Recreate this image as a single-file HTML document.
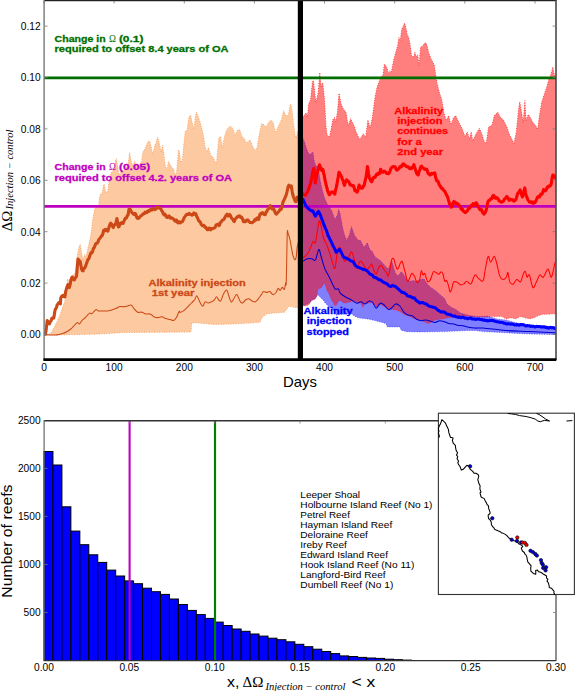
<!DOCTYPE html><html><head><meta charset="utf-8"><style>html,body{margin:0;padding:0;background:#fff;}svg{display:block;}</style></head><body>
<svg width="575" height="691" viewBox="0 0 575 691">
<rect x="0" y="0" width="575" height="691" fill="#fff"/>
<defs><clipPath id="c1"><rect x="44" y="0" width="512" height="359"/></clipPath></defs>
<g clip-path="url(#c1)">
<polygon points="44.0,334.5 46.9,335.0 51.0,333.0 54.0,327.5 57.0,321.5 59.8,315.5 61.8,309.5 63.8,303.7 65.8,298.0 66.4,295.0 67.9,287.8 67.2,279.1 68.6,280.5 70.8,277.6 72.9,274.7 75.1,273.3 76.6,260.3 78.0,251.6 79.5,245.8 80.2,244.3 81.6,253.0 83.1,260.3 84.5,254.5 86.0,256.7 89.0,243.5 91.1,233.4 92.6,220.2 94.6,209.1 97.5,205.5 98.8,204.7 99.3,198.5 100.4,194.3 102.4,192.2 103.5,184.9 104.3,184.4 105.0,189.1 106.6,193.2 108.2,189.1 108.7,183.8 109.7,178.6 110.8,173.4 112.4,171.3 113.9,169.2 115.5,159.8 116.5,158.8 117.6,166.1 118.6,173.4 120.2,173.4 121.7,171.3 123.3,170.3 125.4,169.2 127.5,166.1 128.5,160.9 129.6,152.5 130.6,158.8 131.7,163.0 133.2,166.1 134.8,160.9 135.8,165.1 137.9,166.1 140.0,164.0 141.6,160.9 142.6,153.6 143.7,150.4 145.2,148.4 146.8,144.2 148.4,141.0 150.0,141.7 152.9,154.5 154.6,146.3 156.4,141.7 157.5,137.1 159.3,142.9 161.0,152.1 162.7,145.2 163.9,154.5 165.6,168.4 167.4,167.2 168.5,161.4 170.3,164.9 172.0,167.2 173.8,169.5 174.9,175.3 176.7,171.8 178.4,149.8 179.5,152.1 180.7,162.6 182.4,160.3 184.2,140.6 185.3,131.3 187.1,130.1 188.8,117.4 190.6,115.1 192.3,123.2 194.0,129.0 195.2,117.4 196.3,112.2 198.1,116.2 199.8,120.9 201.6,127.8 203.3,134.8 205.0,146.3 206.8,152.1 208.5,147.5 210.6,154.9 213.0,157.2 216.4,164.1 218.7,138.6 220.6,136.3 222.2,147.9 224.5,136.3 226.9,129.4 230.3,125.9 232.6,128.2 235.0,135.2 237.3,130.5 239.6,129.4 241.9,136.3 244.2,138.6 246.5,143.3 250.0,139.8 252.3,145.6 254.7,150.2 257.0,147.9 259.3,134.0 261.6,123.6 263.9,124.7 266.2,127.1 268.5,122.4 270.9,120.1 273.2,122.4 275.5,132.9 279.0,124.7 281.3,120.1 283.6,110.8 285.9,115.5 288.2,115.5 290.3,104.0 291.5,106.0 292.5,114.0 293.5,123.1 295.2,134.7 296.4,138.2 297.5,131.3 299.0,132.0 299.0,307.7 296.3,307.7 291.8,306.8 289.0,305.9 287.2,308.6 284.5,312.2 273.7,313.1 266.4,314.0 261.9,317.6 260.1,322.2 250.0,323.1 232.0,324.0 214.0,324.5 196.3,322.7 191.8,323.1 190.9,332.1 124.0,332.5 100.0,334.0 60.0,335.0 44.0,334.8" fill="#fdc9a1" stroke="none"/>
<polyline points="44.0,334.5 46.9,335.0 51.0,333.0 54.0,327.5 57.0,321.5 59.8,315.5 61.8,309.5 63.8,303.7 65.8,298.0 66.4,295.0 67.9,287.8 67.2,279.1 68.6,280.5 70.8,277.6 72.9,274.7 75.1,273.3 76.6,260.3 78.0,251.6 79.5,245.8 80.2,244.3 81.6,253.0 83.1,260.3 84.5,254.5 86.0,256.7 89.0,243.5 91.1,233.4 92.6,220.2 94.6,209.1 97.5,205.5 98.8,204.7 99.3,198.5 100.4,194.3 102.4,192.2 103.5,184.9 104.3,184.4 105.0,189.1 106.6,193.2 108.2,189.1 108.7,183.8 109.7,178.6 110.8,173.4 112.4,171.3 113.9,169.2 115.5,159.8 116.5,158.8 117.6,166.1 118.6,173.4 120.2,173.4 121.7,171.3 123.3,170.3 125.4,169.2 127.5,166.1 128.5,160.9 129.6,152.5 130.6,158.8 131.7,163.0 133.2,166.1 134.8,160.9 135.8,165.1 137.9,166.1 140.0,164.0 141.6,160.9 142.6,153.6 143.7,150.4 145.2,148.4 146.8,144.2 148.4,141.0 150.0,141.7 152.9,154.5 154.6,146.3 156.4,141.7 157.5,137.1 159.3,142.9 161.0,152.1 162.7,145.2 163.9,154.5 165.6,168.4 167.4,167.2 168.5,161.4 170.3,164.9 172.0,167.2 173.8,169.5 174.9,175.3 176.7,171.8 178.4,149.8 179.5,152.1 180.7,162.6 182.4,160.3 184.2,140.6 185.3,131.3 187.1,130.1 188.8,117.4 190.6,115.1 192.3,123.2 194.0,129.0 195.2,117.4 196.3,112.2 198.1,116.2 199.8,120.9 201.6,127.8 203.3,134.8 205.0,146.3 206.8,152.1 208.5,147.5 210.6,154.9 213.0,157.2 216.4,164.1 218.7,138.6 220.6,136.3 222.2,147.9 224.5,136.3 226.9,129.4 230.3,125.9 232.6,128.2 235.0,135.2 237.3,130.5 239.6,129.4 241.9,136.3 244.2,138.6 246.5,143.3 250.0,139.8 252.3,145.6 254.7,150.2 257.0,147.9 259.3,134.0 261.6,123.6 263.9,124.7 266.2,127.1 268.5,122.4 270.9,120.1 273.2,122.4 275.5,132.9 279.0,124.7 281.3,120.1 283.6,110.8 285.9,115.5 288.2,115.5 290.3,104.0 291.5,106.0 292.5,114.0 293.5,123.1 295.2,134.7 296.4,138.2 297.5,131.3 299.0,132.0" fill="none" stroke="#f98a3a" stroke-opacity="0.7" stroke-width="1" stroke-dasharray="1,1.5"/>
<polyline points="44.0,334.8 60.0,335.0 100.0,334.0 124.0,332.5 190.9,332.1 191.8,323.1 196.3,322.7 214.0,324.5 232.0,324.0 250.0,323.1 260.1,322.2 261.9,317.6 266.4,314.0 273.7,313.1 284.5,312.2 287.2,308.6 289.0,305.9 291.8,306.8 296.3,307.7 299.0,307.7" fill="none" stroke="#f98a3a" stroke-opacity="0.7" stroke-width="1" stroke-dasharray="1,1.5"/>
<polygon points="302.0,135.9 304.5,141.7 306.2,147.5 307.9,152.1 309.7,154.4 311.4,153.2 313.1,152.1 314.3,161.3 316.0,166.0 317.8,166.0 318.9,172.0 320.5,182.0 322.3,190.0 324.6,198.0 328.1,205.6 331.6,210.2 335.0,219.4 337.4,214.8 338.5,209.0 340.3,213.9 342.4,226.4 344.5,234.8 346.6,240.3 349.4,234.8 351.4,226.4 354.7,235.6 358.2,240.3 360.5,240.3 364.0,247.2 367.4,242.6 370.0,250.0 372.0,251.0 375.2,257.0 380.4,260.4 385.7,266.5 388.3,269.1 390.9,262.2 392.0,261.5 395.2,272.6 397.8,276.1 401.3,271.7 403.0,273.5 406.5,278.7 410.0,281.3 413.5,280.4 417.0,281.3 420.4,279.6 423.9,278.7 427.4,283.9 430.9,287.4 436.1,290.9 439.6,294.3 444.8,298.7 446.8,303.8 451.4,307.3 456.0,309.6 460.6,313.0 469.3,315.4 478.5,316.6 487.8,316.1 497.0,318.9 506.3,320.0 515.6,322.4 524.8,324.7 534.1,325.8 543.3,326.3 554.9,327.0 556.0,327.0 556.0,334.6 554.9,334.6 529.4,333.9 506.3,332.8 483.1,331.6 475.0,330.5 467.6,330.5 444.4,331.6 420.0,331.9 406.8,331.7 401.2,330.3 399.8,326.9 392.9,326.9 387.3,326.9 385.9,323.4 380.3,322.0 374.8,320.6 369.2,319.2 363.6,318.5 358.1,317.8 353.9,315.7 351.1,313.6 346.5,314.2 340.9,314.2 336.5,315.2 334.8,311.7 331.3,308.3 328.7,306.5 327.0,304.8 325.2,303.0 323.5,300.4 321.7,298.7 320.0,297.0 318.7,295.2 317.4,295.2 316.1,297.0 314.8,298.7 313.0,300.0 311.3,300.4 309.6,303.0 303.5,305.7 302.0,305.7" fill="#0000ff" fill-opacity="0.5" stroke="none"/>
<polygon points="302.0,117.4 304.5,115.0 306.2,112.7 307.4,117.4 308.5,104.6 309.7,101.2 310.5,100.0 312.4,81.7 313.5,80.5 315.8,102.5 318.1,93.2 319.8,72.4 321.2,86.3 322.8,82.8 324.6,100.2 325.9,125.0 327.0,134.7 329.4,137.0 331.1,128.9 332.8,119.7 334.6,117.4 335.7,122.0 337.5,111.6 339.0,93.2 341.3,104.8 343.6,109.4 345.9,111.8 348.2,125.6 350.6,118.7 354.0,125.6 356.3,132.6 359.8,139.5 363.3,133.8 365.6,137.2 367.9,119.9 370.2,128.0 372.5,116.4 374.9,97.9 377.2,86.3 380.9,77.2 383.0,75.1 384.3,64.0 385.7,65.4 387.1,68.2 388.5,73.7 389.9,70.9 391.3,72.3 393.4,61.2 395.5,52.9 397.6,45.9 398.9,37.6 400.3,40.3 401.7,29.2 403.1,26.4 404.5,22.9 405.9,27.8 407.3,34.8 408.7,37.6 410.1,44.5 411.5,55.6 413.5,57.0 414.9,52.2 416.3,57.0 417.7,54.9 419.1,65.4 420.5,47.3 422.6,45.9 424.7,43.1 426.1,43.1 427.5,47.3 428.8,52.9 430.9,58.4 433.0,62.6 434.4,65.4 435.8,75.8 437.1,83.2 439.4,92.5 441.7,99.4 444.0,113.3 446.3,120.3 448.7,115.6 451.0,124.9 453.3,118.0 455.6,115.6 457.9,120.3 460.2,124.9 462.5,129.5 464.9,136.5 467.2,131.9 469.5,138.8 471.2,131.9 472.8,141.1 475.8,134.2 479.3,128.4 481.6,133.0 483.9,141.1 486.2,143.4 488.5,127.2 492.0,124.9 494.3,115.6 497.8,112.2 500.1,116.8 503.6,120.3 507.0,127.2 509.4,134.2 511.7,138.8 514.0,143.4 516.3,131.9 518.6,108.7 519.8,101.8 522.1,115.6 523.2,122.6 524.9,100.6 526.0,120.3 528.3,114.5 530.6,118.0 532.9,122.6 536.0,126.1 537.6,129.5 539.4,115.6 541.8,101.8 544.1,94.8 546.4,87.9 548.7,79.8 551.0,74.0 552.9,67.0 553.8,72.8 555.2,76.3 556.0,76.0 556.0,313.8 554.9,313.8 548.0,314.3 543.3,314.3 538.7,315.4 534.1,317.7 529.4,318.9 524.8,317.7 520.2,316.6 515.6,318.9 510.9,317.7 506.3,318.9 501.7,316.6 492.4,316.6 480.0,317.0 470.0,316.5 460.0,316.0 453.7,316.6 449.1,317.7 442.1,318.9 435.2,320.0 428.2,323.5 420.0,319.9 413.7,318.5 409.5,316.4 405.4,315.0 401.2,312.3 397.0,310.2 392.9,309.5 388.7,309.5 384.5,306.7 380.3,304.6 376.2,306.7 372.0,302.5 367.8,303.2 364.3,303.9 363.0,307.4 360.9,303.2 356.7,302.5 352.5,301.1 348.3,302.5 344.2,303.2 340.0,300.4 338.3,301.3 336.5,304.8 334.8,305.7 333.0,302.2 331.3,299.6 329.6,295.2 328.3,292.6 327.0,290.9 325.7,285.7 324.3,283.0 322.6,285.7 320.9,288.3 319.1,288.3 317.8,290.0 317.0,295.2 315.7,298.7 313.9,299.6 312.2,300.0 310.4,302.2 308.7,304.8 307.0,306.1 303.5,305.7 302.0,305.7" fill="#ff0000" fill-opacity="0.5" stroke="none"/>
<polyline points="302.0,135.9 304.5,141.7 306.2,147.5 307.9,152.1 309.7,154.4 311.4,153.2 313.1,152.1 314.3,161.3 316.0,166.0 317.8,166.0 318.9,172.0 320.5,182.0 322.3,190.0 324.6,198.0 328.1,205.6 331.6,210.2 335.0,219.4 337.4,214.8 338.5,209.0 340.3,213.9 342.4,226.4 344.5,234.8 346.6,240.3 349.4,234.8 351.4,226.4 354.7,235.6 358.2,240.3 360.5,240.3 364.0,247.2 367.4,242.6 370.0,250.0 372.0,251.0 375.2,257.0 380.4,260.4 385.7,266.5 388.3,269.1 390.9,262.2 392.0,261.5 395.2,272.6 397.8,276.1 401.3,271.7 403.0,273.5 406.5,278.7 410.0,281.3 413.5,280.4 417.0,281.3 420.4,279.6 423.9,278.7 427.4,283.9 430.9,287.4 436.1,290.9 439.6,294.3 444.8,298.7 446.8,303.8 451.4,307.3 456.0,309.6 460.6,313.0 469.3,315.4 478.5,316.6 487.8,316.1 497.0,318.9 506.3,320.0 515.6,322.4 524.8,324.7 534.1,325.8 543.3,326.3 554.9,327.0 556.0,327.0" fill="none" stroke="#0000ff" stroke-opacity="0.35" stroke-width="1" stroke-dasharray="1,1.5"/>
<polyline points="302.0,305.7 303.5,305.7 309.6,303.0 311.3,300.4 313.0,300.0 314.8,298.7 316.1,297.0 317.4,295.2 318.7,295.2 320.0,297.0 321.7,298.7 323.5,300.4 325.2,303.0 327.0,304.8 328.7,306.5 331.3,308.3 334.8,311.7 336.5,315.2 340.9,314.2 346.5,314.2 351.1,313.6 353.9,315.7 358.1,317.8 363.6,318.5 369.2,319.2 374.8,320.6 380.3,322.0 385.9,323.4 387.3,326.9 392.9,326.9 399.8,326.9 401.2,330.3 406.8,331.7 420.0,331.9 444.4,331.6 467.6,330.5 475.0,330.5 483.1,331.6 506.3,332.8 529.4,333.9 554.9,334.6 556.0,334.6" fill="none" stroke="#0000ff" stroke-opacity="0.5" stroke-width="1" stroke-dasharray="1,1.5"/>
<polyline points="302.0,117.4 304.5,115.0 306.2,112.7 307.4,117.4 308.5,104.6 309.7,101.2 310.5,100.0 312.4,81.7 313.5,80.5 315.8,102.5 318.1,93.2 319.8,72.4 321.2,86.3 322.8,82.8 324.6,100.2 325.9,125.0 327.0,134.7 329.4,137.0 331.1,128.9 332.8,119.7 334.6,117.4 335.7,122.0 337.5,111.6 339.0,93.2 341.3,104.8 343.6,109.4 345.9,111.8 348.2,125.6 350.6,118.7 354.0,125.6 356.3,132.6 359.8,139.5 363.3,133.8 365.6,137.2 367.9,119.9 370.2,128.0 372.5,116.4 374.9,97.9 377.2,86.3 380.9,77.2 383.0,75.1 384.3,64.0 385.7,65.4 387.1,68.2 388.5,73.7 389.9,70.9 391.3,72.3 393.4,61.2 395.5,52.9 397.6,45.9 398.9,37.6 400.3,40.3 401.7,29.2 403.1,26.4 404.5,22.9 405.9,27.8 407.3,34.8 408.7,37.6 410.1,44.5 411.5,55.6 413.5,57.0 414.9,52.2 416.3,57.0 417.7,54.9 419.1,65.4 420.5,47.3 422.6,45.9 424.7,43.1 426.1,43.1 427.5,47.3 428.8,52.9 430.9,58.4 433.0,62.6 434.4,65.4 435.8,75.8 437.1,83.2 439.4,92.5 441.7,99.4 444.0,113.3 446.3,120.3 448.7,115.6 451.0,124.9 453.3,118.0 455.6,115.6 457.9,120.3 460.2,124.9 462.5,129.5 464.9,136.5 467.2,131.9 469.5,138.8 471.2,131.9 472.8,141.1 475.8,134.2 479.3,128.4 481.6,133.0 483.9,141.1 486.2,143.4 488.5,127.2 492.0,124.9 494.3,115.6 497.8,112.2 500.1,116.8 503.6,120.3 507.0,127.2 509.4,134.2 511.7,138.8 514.0,143.4 516.3,131.9 518.6,108.7 519.8,101.8 522.1,115.6 523.2,122.6 524.9,100.6 526.0,120.3 528.3,114.5 530.6,118.0 532.9,122.6 536.0,126.1 537.6,129.5 539.4,115.6 541.8,101.8 544.1,94.8 546.4,87.9 548.7,79.8 551.0,74.0 552.9,67.0 553.8,72.8 555.2,76.3 556.0,76.0" fill="none" stroke="#ff0000" stroke-opacity="0.65" stroke-width="1" stroke-dasharray="1,1.5"/>
<polyline points="302.0,305.7 303.5,305.7 307.0,306.1 308.7,304.8 310.4,302.2 312.2,300.0 313.9,299.6 315.7,298.7 317.0,295.2 317.8,290.0 319.1,288.3 320.9,288.3 322.6,285.7 324.3,283.0 325.7,285.7 327.0,290.9 328.3,292.6 329.6,295.2 331.3,299.6 333.0,302.2 334.8,305.7 336.5,304.8 338.3,301.3 340.0,300.4 344.2,303.2 348.3,302.5 352.5,301.1 356.7,302.5 360.9,303.2 363.0,307.4 364.3,303.9 367.8,303.2 372.0,302.5 376.2,306.7 380.3,304.6 384.5,306.7 388.7,309.5 392.9,309.5 397.0,310.2 401.2,312.3 405.4,315.0 409.5,316.4 413.7,318.5 420.0,319.9 428.2,323.5 435.2,320.0 442.1,318.9 449.1,317.7 453.7,316.6 460.0,316.0 470.0,316.5 480.0,317.0 492.4,316.6 501.7,316.6 506.3,318.9 510.9,317.7 515.6,318.9 520.2,316.6 524.8,317.7 529.4,318.9 534.1,317.7 538.7,315.4 543.3,314.3 548.0,314.3 554.9,313.8 556.0,313.8" fill="none" stroke="#ff0000" stroke-opacity="0.5" stroke-width="1" stroke-dasharray="1,1.5"/>
<line x1="44" y1="77.9" x2="556" y2="77.9" stroke="#006e00" stroke-width="2.9"/>
<line x1="44" y1="206.4" x2="556" y2="206.4" stroke="#bf00bf" stroke-width="2.6"/>
<path d="M44.0,334.5 C45.0,334.6 47.9,334.8 49.8,334.9 C51.7,335.0 54.1,335.1 55.6,335.0 C57.1,334.9 57.3,334.8 58.5,334.5 C59.7,334.2 61.3,334.0 62.8,333.5 C64.2,333.0 65.9,332.2 67.2,331.5 C68.5,330.8 69.8,329.8 70.8,329.0 C71.8,328.2 72.2,327.8 72.9,327.0 C73.6,326.2 74.4,325.2 75.1,324.5 C75.8,323.8 76.6,322.6 77.3,322.5 C78.0,322.4 78.8,324.1 79.5,323.9 C80.2,323.6 80.9,321.8 81.6,321.0 C82.3,320.2 82.9,319.7 83.8,318.9 C84.7,318.1 85.7,317.0 86.7,316.0 C87.7,315.0 88.8,313.5 89.6,313.1 C90.4,312.7 91.1,314.1 91.8,313.8 C92.5,313.6 93.2,312.3 93.9,311.6 C94.6,310.9 95.4,309.6 96.1,309.5 C96.8,309.4 97.3,310.6 98.3,310.9 C99.3,311.1 100.2,311.0 101.9,311.0 C103.6,311.0 106.4,311.2 108.7,310.8 C111.0,310.4 113.8,309.2 115.7,308.5 C117.6,307.8 118.6,306.8 120.0,306.5 C121.4,306.2 122.7,306.9 124.0,306.8 C125.3,306.7 126.4,306.2 127.6,305.9 C128.8,305.6 130.1,304.6 131.2,305.0 C132.3,305.4 132.9,307.4 134.0,308.6 C135.1,309.8 136.2,311.6 137.6,312.2 C138.9,312.8 140.8,311.9 142.1,312.2 C143.4,312.5 144.3,313.7 145.7,314.0 C147.0,314.3 148.8,313.6 150.2,314.0 C151.5,314.4 152.6,316.1 153.8,316.7 C155.0,317.3 156.1,317.6 157.5,317.6 C158.9,317.6 160.7,316.5 162.0,316.7 C163.3,316.9 164.2,318.1 165.6,318.6 C166.9,319.1 168.8,319.2 170.1,319.5 C171.4,319.8 172.6,320.7 173.7,320.4 C174.8,320.1 175.5,319.1 176.4,317.6 C177.3,316.1 178.6,312.2 179.2,311.3 C179.8,310.4 179.2,312.6 180.0,312.4 C180.8,312.2 182.8,311.4 184.2,310.3 C185.6,309.2 187.2,307.3 188.4,306.1 C189.6,304.9 190.5,304.1 191.5,303.0 C192.5,301.9 193.7,301.0 194.6,299.8 C195.5,298.6 196.0,295.7 196.7,295.7 C197.4,295.7 198.1,298.4 198.8,299.8 C199.5,301.2 200.2,302.9 200.9,304.0 C201.6,305.1 202.3,306.5 203.0,306.1 C203.7,305.8 204.2,302.4 205.1,301.9 C206.0,301.4 207.2,303.0 208.2,303.0 C209.2,303.0 210.3,302.4 211.3,301.9 C212.3,301.4 213.5,300.7 214.4,299.8 C215.3,298.9 215.8,296.7 216.5,296.7 C217.2,296.7 217.9,299.1 218.6,299.8 C219.3,300.5 220.0,301.6 220.7,300.9 C221.4,300.2 222.1,297.3 222.8,295.7 C223.5,294.1 224.2,292.4 224.9,291.5 C225.6,290.6 226.3,289.5 227.0,290.4 C227.7,291.3 228.4,294.8 229.1,296.7 C229.8,298.6 230.4,301.4 231.1,301.9 C231.8,302.4 232.3,301.0 233.2,299.8 C234.1,298.6 235.5,295.0 236.4,294.6 C237.3,294.2 237.8,296.5 238.5,297.7 C239.2,298.9 239.8,301.0 240.5,301.9 C241.2,302.8 241.7,303.4 242.6,303.0 C243.5,302.6 244.8,300.5 245.8,299.8 C246.9,299.1 247.9,298.6 248.9,298.8 C249.9,299.0 250.9,300.4 252.0,300.9 C253.1,301.4 254.1,302.2 255.2,301.9 C256.2,301.5 257.3,300.0 258.3,298.8 C259.3,297.6 260.5,295.8 261.4,294.6 C262.3,293.4 262.6,291.9 263.5,291.5 C264.4,291.1 265.6,292.5 266.6,292.5 C267.7,292.5 268.8,291.1 269.8,291.5 C270.9,291.9 271.9,294.4 272.9,294.6 C273.9,294.8 275.1,293.5 276.0,292.5 C276.9,291.5 277.4,288.8 278.1,288.4 C278.8,288.0 279.5,290.6 280.2,290.4 C280.9,290.2 281.6,287.5 282.3,287.3 C283.0,287.1 283.8,290.1 284.4,289.4 C284.9,288.7 285.3,284.3 285.6,283.0 C285.9,281.7 286.0,289.6 286.3,281.5 C286.6,273.4 286.9,242.5 287.2,234.5 C287.5,226.5 287.6,232.7 288.1,233.6 C288.6,234.5 289.2,236.4 290.0,239.9 C290.8,243.4 291.9,251.1 292.7,254.4 C293.5,257.7 294.4,259.5 295.0,259.8 C295.6,260.1 295.9,258.3 296.3,256.2 C296.7,254.1 296.8,249.8 297.2,247.1 C297.6,244.4 298.7,241.2 299.0,240.0" fill="none" stroke="#cc4816" stroke-width="1.05" stroke-linejoin="round"/>
<path d="M302.0,258.0 C302.2,257.9 302.2,258.2 303.1,257.6 C304.0,257.0 306.0,255.9 307.3,254.2 C308.6,252.5 309.8,249.3 310.7,247.2 C311.6,245.1 312.2,242.2 313.0,241.4 C313.8,240.6 314.6,244.7 315.4,242.6 C316.2,240.5 317.0,232.4 317.7,228.7 C318.4,225.0 318.7,221.0 319.3,220.6 C319.9,220.2 320.4,223.5 321.1,226.4 C321.8,229.3 322.7,235.3 323.5,238.0 C324.3,240.7 325.0,240.9 325.8,242.6 C326.6,244.3 327.3,246.3 328.1,248.4 C328.9,250.5 329.6,252.8 330.4,255.3 C331.2,257.8 331.9,261.3 332.7,263.4 C333.5,265.5 334.2,270.0 335.0,268.1 C335.8,266.2 336.6,255.4 337.4,251.9 C338.2,248.4 338.9,247.2 339.7,247.2 C340.5,247.2 341.2,249.6 342.0,251.9 C342.8,254.2 343.5,260.0 344.3,261.1 C345.1,262.2 345.8,259.6 346.6,258.8 C347.4,258.0 348.0,257.6 348.9,256.5 C349.8,255.3 350.8,251.5 351.7,251.9 C352.6,252.3 353.1,256.3 354.0,258.8 C354.9,261.3 356.0,266.5 357.0,266.9 C358.0,267.3 359.0,261.7 360.0,261.1 C361.0,260.5 361.8,262.0 362.8,263.4 C363.9,264.8 365.1,268.7 366.3,269.2 C367.5,269.7 369.1,267.4 370.0,266.5 C370.9,265.6 371.1,263.5 371.7,263.9 C372.3,264.3 372.8,267.4 373.5,269.1 C374.2,270.8 375.2,274.6 376.1,274.3 C377.0,274.0 377.8,268.8 378.7,267.4 C379.6,266.0 380.4,265.4 381.3,265.7 C382.2,266.0 383.0,268.0 383.9,269.1 C384.8,270.2 385.8,271.4 386.5,272.6 C387.2,273.8 387.7,276.7 388.3,276.1 C388.9,275.5 389.4,271.9 390.0,269.1 C390.6,266.4 391.1,261.3 391.7,259.6 C392.3,257.9 392.9,258.0 393.5,258.7 C394.1,259.4 394.6,262.2 395.2,263.9 C395.8,265.6 396.4,268.5 397.0,269.1 C397.6,269.7 398.1,268.4 398.7,267.4 C399.3,266.4 399.8,264.0 400.4,263.0 C401.0,262.0 401.6,260.6 402.2,261.3 C402.8,262.0 403.3,265.2 403.9,267.4 C404.5,269.6 405.1,272.0 405.7,274.3 C406.3,276.6 406.8,280.4 407.4,281.3 C408.0,282.2 408.4,280.9 409.1,279.6 C409.8,278.3 410.8,274.1 411.7,273.5 C412.6,272.9 413.4,274.7 414.3,276.1 C415.2,277.6 416.1,281.6 417.0,282.2 C417.9,282.8 418.9,281.5 419.6,279.6 C420.3,277.7 420.7,271.6 421.3,270.9 C421.9,270.2 422.4,274.8 423.0,275.2 C423.6,275.6 424.1,272.5 424.8,273.5 C425.5,274.5 426.5,280.2 427.4,281.3 C428.3,282.4 429.3,281.3 430.0,280.4 C430.7,279.5 431.1,277.6 431.7,276.1 C432.3,274.7 432.8,272.3 433.5,271.7 C434.2,271.1 435.2,272.2 436.1,272.6 C437.0,273.0 437.8,274.5 438.7,274.3 C439.6,274.1 440.6,271.7 441.3,271.7 C442.0,271.7 442.4,272.7 443.0,274.3 C443.6,275.9 444.2,280.3 444.8,281.3 C445.4,282.3 445.9,279.8 446.5,280.4 C447.1,281.0 447.7,282.9 448.3,284.8 C448.9,286.7 449.4,291.0 450.0,291.7 C450.6,292.4 451.1,290.7 451.7,289.1 C452.3,287.5 452.6,283.4 453.5,282.2 C454.4,281.0 455.9,281.8 457.0,282.2 C458.1,282.6 459.2,284.5 460.4,284.8 C461.5,285.1 462.9,284.5 463.9,283.9 C464.9,283.3 465.5,281.3 466.5,281.3 C467.5,281.3 469.1,283.6 470.0,283.9 C470.9,284.2 470.8,284.5 471.6,283.0 C472.4,281.5 473.9,275.7 475.0,274.9 C476.1,274.1 477.1,277.4 478.5,278.4 C479.9,279.4 481.9,282.4 483.1,280.7 C484.3,279.0 484.6,272.1 485.5,268.0 C486.4,263.9 487.3,257.4 488.2,256.4 C489.1,255.4 489.6,262.2 490.6,262.2 C491.6,262.2 493.2,256.0 494.3,256.4 C495.4,256.8 496.1,261.2 497.0,264.5 C497.9,267.8 498.8,273.6 499.8,276.1 C500.8,278.6 501.7,279.3 502.8,279.5 C503.9,279.7 505.5,278.3 506.3,277.2 C507.1,276.1 507.3,271.8 507.9,272.6 C508.5,273.4 508.9,280.0 509.8,281.9 C510.7,283.8 512.1,284.6 513.2,284.2 C514.4,283.8 515.5,279.9 516.7,279.5 C517.9,279.1 519.6,282.7 520.6,281.9 C521.6,281.1 522.2,276.6 523.0,274.9 C523.8,273.1 524.6,271.0 525.3,271.4 C526.0,271.8 526.4,276.6 527.1,277.2 C527.8,277.8 528.4,273.2 529.4,274.9 C530.4,276.6 531.7,286.4 532.9,287.6 C534.1,288.8 535.2,284.0 536.4,281.9 C537.6,279.8 538.8,275.7 539.9,274.9 C541.0,274.1 541.9,278.2 543.3,277.2 C544.6,276.2 546.6,269.1 548.0,269.1 C549.4,269.1 550.2,278.2 551.4,277.2 C552.5,276.2 554.1,265.8 554.9,263.3 C555.7,260.8 555.8,262.2 556.0,262.0" fill="none" stroke="#ff0000" stroke-width="1.05" stroke-linejoin="round"/>
<path d="M302.0,261.5 C302.2,261.4 302.2,261.6 303.1,261.1 C304.0,260.7 305.8,259.2 307.3,258.8 C308.8,258.4 310.5,258.6 311.9,258.8 C313.2,259.0 314.2,261.6 315.4,260.0 C316.5,258.4 317.9,250.1 318.8,249.5 C319.8,248.9 320.1,253.4 321.1,256.5 C322.1,259.6 323.4,265.0 324.6,268.1 C325.8,271.2 326.9,272.7 328.1,275.0 C329.3,277.3 330.5,279.6 331.6,281.9 C332.8,284.2 333.9,287.7 335.0,288.9 C336.1,290.1 337.7,288.2 338.5,288.9 C339.3,289.5 338.8,291.4 340.0,292.8 C341.2,294.2 343.8,295.9 345.6,297.0 C347.5,298.1 349.2,298.7 351.1,299.7 C353.0,300.7 355.1,302.8 356.7,303.2 C358.3,303.6 359.5,301.7 360.9,301.8 C362.3,301.9 363.6,304.0 365.0,303.9 C366.4,303.8 367.9,301.3 369.2,301.1 C370.5,300.9 371.5,301.3 372.7,302.5 C373.9,303.7 374.9,308.0 376.2,308.1 C377.5,308.2 378.9,303.7 380.3,303.2 C381.7,302.7 383.1,304.2 384.5,305.3 C385.9,306.4 387.3,309.3 388.7,309.5 C390.1,309.7 391.8,307.6 392.9,306.7 C394.0,305.8 394.5,304.0 395.6,303.9 C396.8,303.8 398.4,304.6 399.8,306.0 C401.2,307.4 402.6,310.8 404.0,312.3 C405.4,313.8 406.7,314.4 408.1,315.0 C409.5,315.6 410.9,315.0 412.3,315.7 C413.7,316.4 415.0,318.4 416.5,319.2 C418.0,320.0 419.7,320.6 421.3,320.7 C422.9,320.8 424.3,319.9 425.9,320.0 C427.4,320.1 429.1,320.8 430.6,321.2 C432.2,321.6 433.7,322.5 435.2,322.4 C436.7,322.3 438.3,320.8 439.8,320.7 C441.3,320.6 442.8,321.2 444.4,321.7 C445.9,322.2 447.6,323.1 449.1,323.5 C450.7,323.9 452.2,323.7 453.7,324.0 C455.2,324.3 456.8,325.1 458.3,325.4 C459.9,325.7 461.4,325.5 463.0,325.8 C464.6,326.1 465.6,326.6 467.6,327.0 C469.6,327.4 472.4,327.9 475.0,328.1 C477.6,328.3 477.9,327.7 483.1,328.1 C488.3,328.5 498.6,329.9 506.3,330.5 C514.0,331.1 521.3,331.2 529.4,331.6 C537.5,332.0 550.5,332.6 554.9,332.8 C559.3,333.0 555.8,332.8 556.0,332.8" fill="none" stroke="#0000cc" stroke-width="1.05" stroke-linejoin="round"/>
<polyline points="44.0,334.5 44.8,334.2 45.5,334.2 46.4,327.7 47.2,320.6 47.9,321.3 48.6,323.5 49.4,323.8 50.2,321.9 51.0,320.9 52.0,318.1 52.6,317.9 53.2,318.3 53.8,318.1 54.8,311.5 55.3,309.3 55.9,308.7 56.6,307.2 57.3,304.4 58.0,303.9 58.7,302.8 59.5,302.3 60.4,303.8 60.8,297.9 61.5,296.5 62.1,295.9 62.7,296.4 63.2,295.3 64.1,296.1 64.9,296.9 65.6,291.9 66.4,288.9 67.2,286.3 67.9,284.7 68.6,285.7 69.3,287.6 70.0,285.1 70.8,281.0 71.5,278.4 72.2,277.0 72.9,279.2 73.7,279.4 74.4,279.9 75.1,278.2 75.9,277.2 76.6,275.8 77.3,267.1 78.0,259.0 78.7,259.9 79.5,261.0 80.2,261.4 80.9,265.4 81.6,269.1 82.3,270.6 83.1,270.9 83.7,268.5 84.4,268.3 85.0,267.5 85.8,265.7 86.5,263.4 87.2,261.6 88.0,259.4 88.8,258.8 89.5,256.9 90.3,254.3 91.1,252.7 91.8,253.0 92.6,251.7 93.3,248.7 94.1,247.9 94.8,246.1 95.6,244.0 96.3,243.2 97.1,243.3 97.9,242.2 98.7,239.8 99.4,239.0 100.2,237.7 100.9,237.2 101.5,235.8 102.2,235.6 103.0,233.4 103.7,230.2 104.4,230.8 105.0,229.7 105.7,229.3 106.4,230.6 107.1,230.4 107.8,231.2 108.5,229.0 109.3,226.2 110.0,224.2 110.6,223.2 111.3,223.7 112.0,224.5 112.6,226.6 113.3,227.5 114.0,225.6 114.7,224.8 115.4,224.4 116.2,221.7 116.9,218.6 117.7,222.6 118.4,227.0 119.1,226.5 119.7,224.6 120.4,223.3 121.1,223.6 121.7,222.7 122.4,223.0 123.1,223.3 123.8,221.7 124.5,219.9 125.2,218.3 125.8,218.3 126.5,217.9 127.2,215.7 128.0,215.2 129.0,209.2 129.8,208.8 130.5,210.0 131.3,211.6 132.1,213.0 132.9,213.2 133.6,214.3 134.4,214.6 135.2,213.5 135.8,214.2 136.5,216.7 137.1,218.1 137.8,217.5 138.4,218.3 139.1,218.0 139.7,217.0 140.4,216.3 141.0,215.6 141.7,215.3 142.3,215.0 143.0,213.9 143.6,213.6 144.4,213.6 145.1,212.1 145.9,212.6 146.7,212.7 147.5,211.3 148.2,210.9 149.0,211.4 149.8,210.1 150.4,209.5 151.1,210.0 151.7,210.1 152.4,208.9 153.0,208.7 153.8,209.1 154.6,209.7 155.3,209.3 156.1,209.1 156.8,207.4 157.4,207.0 158.0,207.6 158.7,207.5 159.5,208.0 160.3,208.6 161.1,209.4 161.9,211.0 162.6,211.9 163.4,214.1 164.2,214.9 164.9,214.2 165.7,215.1 166.5,217.1 167.1,217.4 167.8,217.5 168.4,216.6 169.1,216.0 169.7,216.8 170.5,218.2 171.2,217.8 172.0,218.0 172.8,218.6 173.6,219.2 174.4,220.1 175.1,221.2 175.9,220.2 176.5,220.0 177.2,222.1 177.8,222.8 178.5,222.5 179.1,221.7 179.8,222.8 180.4,222.9 181.1,222.0 181.7,221.9 182.4,221.6 183.0,220.3 183.7,218.8 184.3,217.4 185.1,216.4 185.9,215.3 186.6,214.4 187.4,214.5 188.0,214.3 188.7,214.4 189.3,213.3 190.0,214.3 190.6,214.3 191.3,214.8 191.9,215.1 192.6,215.0 193.2,213.9 193.9,213.0 194.6,214.0 195.2,213.5 195.9,213.9 196.6,216.1 197.2,217.3 197.9,218.7 198.6,220.7 199.2,221.3 199.9,221.5 200.6,222.7 201.2,224.4 201.9,224.9 202.5,225.7 203.2,225.4 203.9,225.4 204.5,226.7 205.2,227.5 205.8,227.1 206.5,228.6 207.2,229.6 207.8,229.7 208.5,229.2 209.1,228.0 209.8,229.3 210.5,229.9 211.1,228.5 211.8,228.6 212.5,228.5 213.1,228.6 213.8,228.1 214.4,227.9 215.1,227.6 215.7,225.7 216.4,224.8 217.0,224.6 217.7,224.3 218.4,224.2 219.0,225.6 219.7,224.7 220.3,222.5 221.0,222.0 221.7,221.1 222.3,220.2 223.0,219.7 223.6,219.6 224.3,218.7 225.0,217.2 225.7,215.9 226.3,215.1 227.0,214.2 227.7,215.4 228.3,216.0 228.9,215.3 229.6,214.5 230.3,215.3 230.9,216.7 231.6,218.2 232.3,219.2 233.0,219.5 233.6,221.0 234.3,221.6 234.9,219.8 235.6,218.5 236.2,217.9 236.9,217.6 237.5,216.7 238.2,216.3 238.9,216.1 239.6,215.9 240.2,216.9 240.9,217.4 241.6,217.1 242.2,218.3 242.8,219.7 243.5,221.7 244.2,221.8 244.8,220.9 245.5,221.6 246.1,221.3 246.8,220.1 247.5,220.0 248.1,220.1 248.8,221.4 249.4,221.9 250.1,222.4 250.8,222.5 251.4,222.5 252.1,222.7 252.7,222.2 253.4,221.7 254.1,221.3 254.8,219.7 255.4,219.4 256.1,219.8 256.8,218.4 257.4,217.8 258.1,218.4 258.7,219.5 259.4,216.4 260.0,214.1 260.6,214.5 261.3,213.1 262.0,213.2 262.6,212.7 263.2,213.7 263.9,214.4 264.6,214.4 265.2,214.7 265.9,212.3 266.5,212.0 267.1,210.8 267.8,209.3 268.4,207.9 269.1,208.4 269.8,208.0 270.4,205.7 271.0,206.4 271.7,208.1 272.4,209.1 273.0,208.5 273.7,209.0 274.4,210.4 275.1,212.5 275.8,213.9 276.5,214.1 277.1,213.2 277.8,212.5 278.5,211.8 279.1,211.1 279.8,209.6 280.4,209.6 281.1,209.5 281.7,207.8 282.3,205.3 282.9,202.3 283.5,200.8 284.1,200.0 284.8,198.4 285.5,196.7 286.1,195.3 287.0,191.9 287.8,188.2 288.4,186.0 289.0,185.2 289.6,186.3 290.5,186.9 291.3,186.0 292.2,191.8 292.9,195.0 293.5,197.0 294.1,198.5 294.8,200.5 295.5,201.6 296.1,201.6 297.0,197.2 297.7,197.8 298.3,197.7 299.0,196.0" fill="none" stroke="#cc4816" stroke-width="3.1" stroke-linejoin="round"/>
<polyline points="302.0,193.0 302.8,194.0 303.5,194.4 304.2,194.9 304.9,195.1 305.6,195.0 306.3,193.7 307.0,192.5 307.6,191.9 308.3,189.9 309.0,188.3 309.7,185.5 310.4,184.2 311.1,180.5 311.8,177.3 312.5,173.4 313.2,170.2 313.9,168.3 314.6,175.3 315.3,183.0 316.0,179.5 316.7,175.2 317.4,172.5 318.1,169.7 318.8,167.8 319.5,164.8 320.2,166.4 320.9,169.5 321.6,170.3 322.2,169.0 322.9,169.3 323.6,172.9 324.3,175.7 325.0,180.2 325.7,183.0 326.4,185.9 327.1,188.7 327.8,191.3 328.5,192.9 329.2,194.7 329.9,194.3 330.6,192.8 331.3,192.3 332.0,191.9 332.7,192.0 333.4,192.3 334.1,193.4 334.8,194.2 335.5,190.3 336.2,187.9 336.9,184.4 337.6,180.3 338.2,177.1 338.9,172.4 339.6,173.0 340.3,174.5 341.0,175.8 341.7,176.9 342.4,179.6 343.1,180.5 343.8,183.4 344.5,185.4 345.2,182.5 345.9,181.7 346.6,179.9 347.3,180.8 348.0,180.8 348.7,181.7 349.4,183.1 350.1,184.9 350.8,184.6 351.5,185.3 352.2,185.9 352.9,185.4 353.6,186.0 354.2,187.8 354.9,190.5 355.6,191.1 356.3,190.7 357.0,192.2 357.7,190.8 358.4,188.3 359.1,185.0 359.8,187.0 360.5,187.0 361.2,188.3 361.9,188.3 362.6,187.8 363.3,186.1 364.0,185.7 364.7,182.8 365.4,179.6 366.1,177.0 366.8,171.7 367.5,166.5 368.1,170.5 368.8,175.6 369.5,178.4 370.2,178.9 370.9,181.0 371.6,181.8 372.3,180.3 373.0,178.4 373.7,177.2 374.4,177.4 375.1,177.2 375.8,175.8 376.5,174.4 377.2,173.8 377.9,174.4 378.6,172.9 379.3,173.2 380.0,173.4 380.6,169.2 381.3,170.7 382.1,172.0 382.8,172.1 383.5,172.2 384.2,171.2 384.9,171.5 385.6,172.0 386.4,173.3 387.1,172.9 387.8,173.6 388.5,173.8 389.3,172.8 390.0,171.4 390.7,169.1 391.5,167.8 392.2,167.0 392.9,166.8 393.6,166.6 394.3,166.9 395.0,166.9 395.7,168.1 396.4,169.9 397.1,170.2 397.7,169.5 398.4,168.9 399.1,168.4 399.8,166.8 400.6,166.4 401.3,166.8 402.0,166.0 402.8,164.2 403.5,163.8 404.2,164.7 404.9,165.2 405.6,165.9 406.3,166.4 407.0,166.5 407.7,167.1 408.4,166.8 409.0,167.6 409.7,168.7 410.4,168.8 411.1,167.8 411.8,168.3 412.5,167.5 413.2,166.1 413.9,164.6 414.5,166.9 415.2,168.7 415.9,171.1 416.5,172.9 417.1,174.0 417.7,174.6 418.3,175.0 418.9,172.1 419.6,170.4 420.2,168.8 420.9,166.6 421.6,166.2 422.3,167.4 422.9,168.0 423.6,168.2 424.3,169.1 425.0,169.5 425.6,169.1 426.3,169.2 427.0,169.5 427.6,172.0 428.3,173.5 429.0,173.7 429.6,174.9 430.2,175.0 430.9,174.4 431.6,173.3 432.2,174.0 432.9,173.8 433.5,173.4 434.1,172.9 434.8,173.1 435.6,177.0 436.5,180.3 437.1,181.2 437.8,181.0 438.5,182.3 439.1,184.5 439.8,185.8 440.4,186.1 441.1,187.8 441.7,188.4 442.4,188.3 443.1,189.7 443.8,190.4 444.5,190.9 445.2,192.1 445.9,193.8 446.5,194.9 447.1,196.0 447.8,197.3 448.4,199.9 449.0,201.9 449.6,204.1 450.5,205.7 451.3,207.2 451.9,206.5 452.6,203.8 453.2,202.7 453.9,201.5 454.5,201.9 455.2,202.3 455.9,203.9 456.5,203.5 457.1,203.2 457.8,204.4 458.5,204.4 459.1,205.4 459.8,206.1 460.5,207.5 461.2,209.2 461.9,209.5 462.6,209.4 463.2,211.0 463.9,211.8 464.6,211.9 465.2,212.6 465.9,212.2 466.5,211.5 467.1,211.1 467.8,209.9 468.4,208.6 469.1,207.9 469.8,208.1 470.4,206.2 471.1,205.4 471.8,205.8 472.4,205.2 473.1,203.7 473.7,204.6 474.4,205.0 475.0,203.9 475.7,203.3 476.3,202.7 477.1,204.3 477.9,206.5 478.6,207.1 479.4,208.9 480.2,209.8 480.9,209.5 481.7,209.8 482.5,212.4 483.3,213.3 484.1,214.2 484.9,212.7 485.6,211.9 486.4,209.3 487.2,205.1 488.0,201.6 488.8,200.5 489.5,200.4 490.3,199.5 490.9,198.6 491.6,198.9 492.2,198.0 492.9,195.7 493.5,195.3 494.3,196.2 495.0,198.0 495.8,198.2 496.6,197.6 497.4,197.9 498.2,199.1 499.0,201.0 499.8,200.9 500.5,201.6 501.3,202.2 502.1,201.9 502.9,201.5 503.6,200.7 504.4,199.2 505.2,198.8 506.0,197.4 506.8,196.4 507.6,197.4 508.3,198.6 509.1,200.4 509.9,199.8 510.7,199.3 511.5,199.5 512.3,200.1 513.0,199.8 513.8,201.1 514.6,200.6 515.4,200.2 516.2,198.7 517.0,195.9 517.7,193.4 518.5,192.9 519.3,191.3 520.1,189.9 520.9,192.6 521.6,194.7 522.4,197.0 523.2,194.6 524.0,190.8 524.8,187.9 525.5,192.8 526.3,196.0 527.1,197.7 527.9,200.0 528.7,200.8 529.5,202.1 530.2,202.4 531.0,201.7 531.8,201.8 532.6,203.1 533.3,203.4 534.1,202.2 534.9,202.6 535.7,201.4 536.5,199.7 537.3,197.5 538.1,196.7 538.8,197.2 539.6,196.9 540.4,194.8 541.0,194.0 541.7,194.4 542.3,193.6 543.0,191.6 543.6,189.5 544.4,190.3 545.2,190.9 545.9,190.3 546.7,188.5 547.5,186.8 548.2,187.0 549.0,185.9 549.8,186.1 550.6,185.4 551.4,183.1 552.1,178.1 552.9,175.0 553.7,176.5 554.5,175.9 555.2,177.6 556.0,179.0" fill="none" stroke="#ff0000" stroke-width="3.1" stroke-linejoin="round"/>
<polyline points="302.0,199.0 303.1,199.5 303.9,201.4 304.6,202.9 305.4,204.8 306.1,206.4 306.8,206.9 307.5,207.8 308.2,208.3 308.9,209.2 309.6,209.6 310.3,209.9 311.0,210.5 311.6,211.0 312.3,210.7 313.0,211.0 313.8,213.0 314.6,214.9 315.4,216.2 316.1,214.9 316.9,213.9 317.6,212.3 318.4,211.4 319.1,212.5 319.8,213.7 320.4,215.1 321.1,216.9 321.8,219.1 322.5,220.6 323.2,222.7 323.9,224.7 324.6,226.3 325.3,228.1 326.0,229.5 326.7,231.3 327.4,233.4 328.1,235.7 328.9,237.1 329.6,238.5 330.4,240.3 331.2,241.7 331.9,243.2 332.7,245.2 333.4,246.5 334.1,247.5 334.8,249.1 335.5,250.7 336.2,252.3 336.9,251.7 337.6,251.0 338.3,250.7 339.0,249.7 339.7,249.4 340.4,251.0 341.1,252.0 341.7,253.4 342.4,254.7 343.1,256.6 343.9,257.2 344.7,257.5 345.5,258.0 346.2,258.0 347.0,258.6 347.8,259.0 348.6,259.3 349.3,259.7 350.1,260.4 350.9,260.9 351.6,260.9 352.4,261.1 353.2,261.8 353.9,263.1 354.7,264.4 355.5,265.6 356.2,266.3 357.0,266.8 357.8,267.2 358.6,267.6 359.4,267.6 360.1,268.1 360.9,268.4 361.7,268.6 362.5,268.9 363.2,269.6 364.0,269.4 364.8,269.6 365.5,270.1 366.3,270.6 367.0,270.7 367.8,271.5 368.5,272.4 369.3,273.4 370.0,274.0 370.7,274.5 371.5,274.6 372.2,275.1 373.0,275.9 373.7,277.0 374.5,277.6 375.2,277.5 375.9,277.7 376.7,278.1 377.4,278.6 378.2,279.2 378.9,279.7 379.7,279.7 380.4,279.8 381.2,280.5 381.9,281.0 382.7,281.7 383.4,282.4 384.2,282.6 384.9,282.7 385.7,283.2 386.4,283.6 387.2,283.8 387.9,284.8 388.7,285.5 389.4,286.0 390.2,286.4 390.9,286.5 391.8,285.8 392.6,285.3 393.3,285.9 394.0,285.9 394.7,286.1 395.4,286.5 396.1,286.9 396.8,287.7 397.5,288.2 398.2,288.8 398.9,289.6 399.6,290.4 400.3,290.9 401.1,291.3 401.8,292.3 402.6,292.5 403.3,292.4 404.1,292.7 404.8,293.2 405.5,293.7 406.3,294.2 407.0,295.4 407.8,296.1 408.5,296.1 409.3,296.3 410.0,296.5 410.7,296.7 411.5,297.1 412.2,297.6 413.0,298.1 413.7,297.8 414.5,298.0 415.2,299.0 415.9,300.0 416.5,300.8 417.2,301.2 417.9,301.2 418.6,302.0 419.3,302.8 420.0,303.1 420.7,302.8 421.4,302.5 422.2,302.4 422.9,302.5 423.6,303.1 424.4,303.5 425.1,303.8 425.9,303.8 426.7,304.1 427.4,305.0 428.2,305.7 429.0,306.0 429.8,306.3 430.5,306.6 431.3,306.8 432.1,306.7 432.9,307.2 433.7,307.4 434.4,307.4 435.2,307.8 436.0,308.4 436.7,309.0 437.5,309.9 438.3,310.5 439.0,310.6 439.8,311.3 440.6,311.9 441.3,312.1 442.1,311.8 442.9,311.8 443.7,312.0 444.4,312.2 445.2,312.6 446.0,313.4 446.8,314.0 447.5,314.2 448.3,314.2 449.1,314.5 449.9,314.8 450.6,314.6 451.4,315.2 452.2,315.9 452.9,316.1 453.7,316.2 454.5,316.0 455.2,316.1 456.0,316.7 456.8,316.8 457.6,317.2 458.3,317.5 459.1,317.1 459.9,317.2 460.7,317.8 461.4,317.7 462.2,317.2 463.0,317.1 463.8,317.5 464.5,318.2 465.3,318.2 466.1,317.9 466.8,318.4 467.6,318.8 468.4,318.5 469.1,318.2 469.9,318.3 470.6,318.0 471.4,318.1 472.1,319.0 472.8,319.0 473.5,319.0 474.3,319.2 475.0,319.1 475.7,319.4 476.5,319.4 477.2,318.9 477.9,318.9 478.7,319.0 479.4,319.2 480.2,319.5 480.9,319.5 481.6,319.5 482.4,319.7 483.1,320.2 483.9,320.1 484.6,320.1 485.4,320.4 486.2,320.7 487.0,320.6 487.7,320.9 488.5,320.7 489.3,320.7 490.1,320.6 490.8,320.3 491.6,320.6 492.4,320.5 493.2,320.6 493.9,321.1 494.7,321.0 495.5,321.3 496.2,321.7 497.0,321.7 497.8,321.7 498.6,321.9 499.3,322.3 500.1,322.4 500.9,322.2 501.7,322.4 502.4,322.4 503.2,322.7 504.0,323.2 504.8,323.3 505.5,323.5 506.3,323.9 507.1,324.0 507.8,323.8 508.6,323.8 509.4,323.9 510.2,324.0 510.9,324.2 511.7,324.1 512.5,324.1 513.3,324.4 514.0,324.8 514.8,324.8 515.6,325.0 516.4,325.0 517.1,324.5 517.9,324.8 518.7,325.3 519.4,325.2 520.2,324.6 521.0,324.5 521.7,324.8 522.5,324.6 523.3,324.7 524.0,324.8 524.8,325.5 525.6,325.9 526.3,325.9 527.1,325.4 527.9,325.8 528.6,325.8 529.4,325.6 530.2,326.3 530.9,326.4 531.7,326.1 532.5,326.4 533.3,326.2 534.0,326.4 534.8,326.9 535.6,326.8 536.4,326.3 537.1,326.4 537.9,326.6 538.7,326.5 539.5,326.4 540.2,326.7 541.0,327.0 541.7,326.7 542.5,327.0 543.2,327.0 543.9,326.7 544.7,327.0 545.4,327.4 546.1,327.3 546.9,327.2 547.6,327.9 548.3,328.2 549.0,328.1 549.8,327.4 550.5,327.3 551.2,327.4 552.0,327.9 552.7,327.7 553.4,327.5 554.2,328.0 554.9,328.6 556.0,328.2" fill="none" stroke="#0000ff" stroke-width="3.0" stroke-linejoin="round"/>
</g>
<rect x="297.8" y="0" width="5.2" height="359" fill="#000"/>
<line x1="44" y1="0.6" x2="556.5" y2="0.6" stroke="#222" stroke-width="1.3"/>
<line x1="44.1" y1="0" x2="44.1" y2="360" stroke="#777" stroke-width="1.4"/>
<line x1="556" y1="0" x2="556" y2="360" stroke="#4a4a4a" stroke-width="1.6"/>
<line x1="43.4" y1="359.6" x2="556.3" y2="359.6" stroke="#000" stroke-width="2.7"/>
<line x1="44.8" y1="334.5" x2="47.5" y2="334.5" stroke="#777" stroke-width="0.8"/>
<line x1="552.5" y1="334.5" x2="555" y2="334.5" stroke="#777" stroke-width="0.8"/>
<line x1="44.8" y1="283.1" x2="47.5" y2="283.1" stroke="#777" stroke-width="0.8"/>
<line x1="552.5" y1="283.1" x2="555" y2="283.1" stroke="#777" stroke-width="0.8"/>
<line x1="44.8" y1="231.7" x2="47.5" y2="231.7" stroke="#777" stroke-width="0.8"/>
<line x1="552.5" y1="231.7" x2="555" y2="231.7" stroke="#777" stroke-width="0.8"/>
<line x1="44.8" y1="180.3" x2="47.5" y2="180.3" stroke="#777" stroke-width="0.8"/>
<line x1="552.5" y1="180.3" x2="555" y2="180.3" stroke="#777" stroke-width="0.8"/>
<line x1="44.8" y1="128.9" x2="47.5" y2="128.9" stroke="#777" stroke-width="0.8"/>
<line x1="552.5" y1="128.9" x2="555" y2="128.9" stroke="#777" stroke-width="0.8"/>
<line x1="44.8" y1="77.5" x2="47.5" y2="77.5" stroke="#777" stroke-width="0.8"/>
<line x1="552.5" y1="77.5" x2="555" y2="77.5" stroke="#777" stroke-width="0.8"/>
<line x1="44.8" y1="26.1" x2="47.5" y2="26.1" stroke="#777" stroke-width="0.8"/>
<line x1="552.5" y1="26.1" x2="555" y2="26.1" stroke="#777" stroke-width="0.8"/>
<line x1="44.0" y1="1" x2="44.0" y2="3.5" stroke="#777" stroke-width="0.8"/>
<line x1="114.1" y1="1" x2="114.1" y2="3.5" stroke="#777" stroke-width="0.8"/>
<line x1="184.3" y1="1" x2="184.3" y2="3.5" stroke="#777" stroke-width="0.8"/>
<line x1="254.4" y1="1" x2="254.4" y2="3.5" stroke="#777" stroke-width="0.8"/>
<line x1="324.5" y1="1" x2="324.5" y2="3.5" stroke="#777" stroke-width="0.8"/>
<line x1="394.7" y1="1" x2="394.7" y2="3.5" stroke="#777" stroke-width="0.8"/>
<line x1="464.8" y1="1" x2="464.8" y2="3.5" stroke="#777" stroke-width="0.8"/>
<line x1="535.0" y1="1" x2="535.0" y2="3.5" stroke="#777" stroke-width="0.8"/>
<text x="40.6" y="338.4" font-family='"Liberation Sans", sans-serif' font-size="10.3" text-anchor="end" textLength="19.8" lengthAdjust="spacingAndGlyphs" fill="#000">0.00</text>
<text x="40.6" y="287.0" font-family='"Liberation Sans", sans-serif' font-size="10.3" text-anchor="end" textLength="19.8" lengthAdjust="spacingAndGlyphs" fill="#000">0.02</text>
<text x="40.6" y="235.6" font-family='"Liberation Sans", sans-serif' font-size="10.3" text-anchor="end" textLength="19.8" lengthAdjust="spacingAndGlyphs" fill="#000">0.04</text>
<text x="40.6" y="184.2" font-family='"Liberation Sans", sans-serif' font-size="10.3" text-anchor="end" textLength="19.8" lengthAdjust="spacingAndGlyphs" fill="#000">0.06</text>
<text x="40.6" y="132.8" font-family='"Liberation Sans", sans-serif' font-size="10.3" text-anchor="end" textLength="19.8" lengthAdjust="spacingAndGlyphs" fill="#000">0.08</text>
<text x="40.6" y="81.4" font-family='"Liberation Sans", sans-serif' font-size="10.3" text-anchor="end" textLength="19.8" lengthAdjust="spacingAndGlyphs" fill="#000">0.10</text>
<text x="40.6" y="30.0" font-family='"Liberation Sans", sans-serif' font-size="10.3" text-anchor="end" textLength="19.8" lengthAdjust="spacingAndGlyphs" fill="#000">0.12</text>
<text x="44.0" y="371.4" font-family='"Liberation Sans", sans-serif' font-size="10.3" text-anchor="middle" textLength="5.7" lengthAdjust="spacingAndGlyphs" fill="#000">0</text>
<text x="114.1" y="371.4" font-family='"Liberation Sans", sans-serif' font-size="10.3" text-anchor="middle" textLength="17.0" lengthAdjust="spacingAndGlyphs" fill="#000">100</text>
<text x="184.3" y="371.4" font-family='"Liberation Sans", sans-serif' font-size="10.3" text-anchor="middle" textLength="17.0" lengthAdjust="spacingAndGlyphs" fill="#000">200</text>
<text x="254.4" y="371.4" font-family='"Liberation Sans", sans-serif' font-size="10.3" text-anchor="middle" textLength="17.0" lengthAdjust="spacingAndGlyphs" fill="#000">300</text>
<text x="324.5" y="371.4" font-family='"Liberation Sans", sans-serif' font-size="10.3" text-anchor="middle" textLength="17.0" lengthAdjust="spacingAndGlyphs" fill="#000">400</text>
<text x="394.7" y="371.4" font-family='"Liberation Sans", sans-serif' font-size="10.3" text-anchor="middle" textLength="17.0" lengthAdjust="spacingAndGlyphs" fill="#000">500</text>
<text x="464.8" y="371.4" font-family='"Liberation Sans", sans-serif' font-size="10.3" text-anchor="middle" textLength="17.0" lengthAdjust="spacingAndGlyphs" fill="#000">600</text>
<text x="535.0" y="371.4" font-family='"Liberation Sans", sans-serif' font-size="10.3" text-anchor="middle" textLength="17.0" lengthAdjust="spacingAndGlyphs" fill="#000">700</text>
<text x="300" y="386.7" font-family='"Liberation Sans", sans-serif' font-size="14.2" text-anchor="middle" textLength="33.9" lengthAdjust="spacingAndGlyphs">Days</text>
<g transform="translate(11.6,231.3) rotate(-90)"><text x="0" y="0" font-family='"Liberation Serif", serif' font-size="15.6" textLength="20.6" lengthAdjust="spacingAndGlyphs">ΔΩ</text><text x="21.8" y="1.8" font-family='"Liberation Serif", serif' font-style="italic" font-size="9.8" textLength="80" lengthAdjust="spacingAndGlyphs">Injection − control</text></g>
<text x="54.6" y="41.7" font-family='"Liberation Sans", sans-serif' font-weight="bold" font-size="9.7" textLength="51.0" lengthAdjust="spacingAndGlyphs" fill="#007000" stroke="#007000" stroke-width="0.3">Change in</text>
<text x="108.9" y="41.7" font-family='"Liberation Serif", serif' font-size="9.8" textLength="6.9" lengthAdjust="spacingAndGlyphs" fill="#007000">Ω</text>
<text x="118.9" y="41.7" font-family='"Liberation Sans", sans-serif' font-weight="bold" font-size="9.7" textLength="24.6" lengthAdjust="spacingAndGlyphs" fill="#007000" stroke="#007000" stroke-width="0.3">(0.1)</text>
<text x="54.5" y="51.7" font-family='"Liberation Sans", sans-serif' font-weight="bold" font-size="9.7" textLength="174.0" lengthAdjust="spacingAndGlyphs" fill="#007000" stroke="#007000" stroke-width="0.3" xml:space="preserve">required to offset 8.4 years of OA</text>
<text x="54.6" y="169.8" font-family='"Liberation Sans", sans-serif' font-weight="bold" font-size="9.7" textLength="51.0" lengthAdjust="spacingAndGlyphs" fill="#bf00bf" stroke="#bf00bf" stroke-width="0.3">Change in</text>
<text x="108.9" y="169.8" font-family='"Liberation Serif", serif' font-size="9.8" textLength="6.9" lengthAdjust="spacingAndGlyphs" fill="#bf00bf">Ω</text>
<text x="118.9" y="169.8" font-family='"Liberation Sans", sans-serif' font-weight="bold" font-size="9.7" textLength="31.4" lengthAdjust="spacingAndGlyphs" fill="#bf00bf" stroke="#bf00bf" stroke-width="0.3">(0.05)</text>
<text x="54.5" y="180.5" font-family='"Liberation Sans", sans-serif' font-weight="bold" font-size="9.7" textLength="177.5" lengthAdjust="spacingAndGlyphs" fill="#bf00bf" stroke="#bf00bf" stroke-width="0.3" xml:space="preserve">required to offset 4.2. years of OA</text>
<text x="148.6" y="286.3" font-family='"Liberation Sans", sans-serif' font-weight="bold" font-size="9.7" textLength="97.2" lengthAdjust="spacingAndGlyphs" fill="#cc4816" stroke="#cc4816" stroke-width="0.3" xml:space="preserve">Alkalinity injection</text>
<text x="148.6" y="296.2" font-family='"Liberation Sans", sans-serif' font-weight="bold" font-size="9.7" textLength="45.7" lengthAdjust="spacingAndGlyphs" fill="#cc4816" stroke="#cc4816" stroke-width="0.3" xml:space="preserve"> 1st year</text>
<text x="394.2" y="113.5" font-family='"Liberation Sans", sans-serif' font-weight="bold" font-size="9.7" textLength="49.0" lengthAdjust="spacingAndGlyphs" fill="#ff0000" stroke="#ff0000" stroke-width="0.3" xml:space="preserve">Alkalinity</text>
<text x="394.2" y="123.8" font-family='"Liberation Sans", sans-serif' font-weight="bold" font-size="9.7" textLength="48.2" lengthAdjust="spacingAndGlyphs" fill="#ff0000" stroke="#ff0000" stroke-width="0.3" xml:space="preserve"> injection</text>
<text x="394.2" y="134.2" font-family='"Liberation Sans", sans-serif' font-weight="bold" font-size="9.7" textLength="53.9" lengthAdjust="spacingAndGlyphs" fill="#ff0000" stroke="#ff0000" stroke-width="0.3" xml:space="preserve"> continues</text>
<text x="394.2" y="144.6" font-family='"Liberation Sans", sans-serif' font-weight="bold" font-size="9.7" textLength="27.5" lengthAdjust="spacingAndGlyphs" fill="#ff0000" stroke="#ff0000" stroke-width="0.3" xml:space="preserve"> for a</text>
<text x="394.2" y="154.9" font-family='"Liberation Sans", sans-serif' font-weight="bold" font-size="9.7" textLength="48.9" lengthAdjust="spacingAndGlyphs" fill="#ff0000" stroke="#ff0000" stroke-width="0.3" xml:space="preserve"> 2nd year</text>
<text x="303.6" y="314.2" font-family='"Liberation Sans", sans-serif' font-weight="bold" font-size="9.7" textLength="49.0" lengthAdjust="spacingAndGlyphs" fill="#0000ff" stroke="#0000ff" stroke-width="0.3" xml:space="preserve">Alkalinity</text>
<text x="303.6" y="324.3" font-family='"Liberation Sans", sans-serif' font-weight="bold" font-size="9.7" textLength="48.2" lengthAdjust="spacingAndGlyphs" fill="#0000ff" stroke="#0000ff" stroke-width="0.3" xml:space="preserve"> injection</text>
<text x="303.6" y="334.5" font-family='"Liberation Sans", sans-serif' font-weight="bold" font-size="9.7" textLength="45.4" lengthAdjust="spacingAndGlyphs" fill="#0000ff" stroke="#0000ff" stroke-width="0.3" xml:space="preserve"> stopped</text>
<rect x="44.00" y="451.5" width="8.96" height="209.0" fill="#0000ff" stroke="#000" stroke-width="1"/>
<rect x="52.96" y="465.0" width="8.96" height="195.5" fill="#0000ff" stroke="#000" stroke-width="1"/>
<rect x="61.92" y="506.8" width="8.96" height="153.7" fill="#0000ff" stroke="#000" stroke-width="1"/>
<rect x="70.88" y="531.1" width="8.96" height="129.4" fill="#0000ff" stroke="#000" stroke-width="1"/>
<rect x="79.84" y="544.7" width="8.96" height="115.8" fill="#0000ff" stroke="#000" stroke-width="1"/>
<rect x="88.80" y="554.8" width="8.96" height="105.7" fill="#0000ff" stroke="#000" stroke-width="1"/>
<rect x="97.76" y="562.4" width="8.96" height="98.1" fill="#0000ff" stroke="#000" stroke-width="1"/>
<rect x="106.72" y="570.1" width="8.96" height="90.4" fill="#0000ff" stroke="#000" stroke-width="1"/>
<rect x="115.68" y="576.0" width="8.96" height="84.5" fill="#0000ff" stroke="#000" stroke-width="1"/>
<rect x="124.64" y="580.9" width="8.96" height="79.6" fill="#0000ff" stroke="#000" stroke-width="1"/>
<rect x="133.60" y="583.7" width="8.96" height="76.8" fill="#0000ff" stroke="#000" stroke-width="1"/>
<rect x="142.56" y="588.2" width="8.96" height="72.3" fill="#0000ff" stroke="#000" stroke-width="1"/>
<rect x="151.52" y="591.7" width="8.96" height="68.8" fill="#0000ff" stroke="#000" stroke-width="1"/>
<rect x="160.48" y="594.4" width="8.96" height="66.1" fill="#0000ff" stroke="#000" stroke-width="1"/>
<rect x="169.44" y="599.0" width="8.96" height="61.5" fill="#0000ff" stroke="#000" stroke-width="1"/>
<rect x="178.40" y="604.5" width="8.96" height="56.0" fill="#0000ff" stroke="#000" stroke-width="1"/>
<rect x="187.36" y="610.4" width="8.96" height="50.1" fill="#0000ff" stroke="#000" stroke-width="1"/>
<rect x="196.32" y="614.6" width="8.96" height="45.9" fill="#0000ff" stroke="#000" stroke-width="1"/>
<rect x="205.28" y="618.4" width="8.96" height="42.1" fill="#0000ff" stroke="#000" stroke-width="1"/>
<rect x="214.24" y="622.1" width="8.96" height="38.4" fill="#0000ff" stroke="#000" stroke-width="1"/>
<rect x="223.20" y="625.5" width="8.96" height="35.0" fill="#0000ff" stroke="#000" stroke-width="1"/>
<rect x="232.16" y="629.0" width="8.96" height="31.5" fill="#0000ff" stroke="#000" stroke-width="1"/>
<rect x="241.12" y="631.3" width="8.96" height="29.2" fill="#0000ff" stroke="#000" stroke-width="1"/>
<rect x="250.08" y="634.0" width="8.96" height="26.5" fill="#0000ff" stroke="#000" stroke-width="1"/>
<rect x="259.04" y="636.1" width="8.96" height="24.4" fill="#0000ff" stroke="#000" stroke-width="1"/>
<rect x="268.00" y="638.2" width="8.96" height="22.3" fill="#0000ff" stroke="#000" stroke-width="1"/>
<rect x="276.96" y="639.7" width="8.96" height="20.8" fill="#0000ff" stroke="#000" stroke-width="1"/>
<rect x="285.92" y="641.8" width="8.96" height="18.7" fill="#0000ff" stroke="#000" stroke-width="1"/>
<rect x="294.88" y="644.3" width="8.96" height="16.2" fill="#0000ff" stroke="#000" stroke-width="1"/>
<rect x="303.84" y="646.7" width="8.96" height="13.8" fill="#0000ff" stroke="#000" stroke-width="1"/>
<rect x="312.80" y="649.2" width="8.96" height="11.3" fill="#0000ff" stroke="#000" stroke-width="1"/>
<rect x="321.76" y="651.5" width="8.96" height="9.0" fill="#0000ff" stroke="#000" stroke-width="1"/>
<rect x="330.72" y="653.6" width="8.96" height="6.9" fill="#0000ff" stroke="#000" stroke-width="1"/>
<rect x="339.68" y="655.9" width="8.96" height="4.6" fill="#0000ff" stroke="#000" stroke-width="1"/>
<rect x="348.64" y="656.5" width="8.96" height="4.0" fill="#0000ff" stroke="#000" stroke-width="1"/>
<rect x="357.60" y="657.4" width="8.96" height="3.1" fill="#0000ff" stroke="#000" stroke-width="1"/>
<rect x="366.56" y="658.0" width="8.96" height="2.5" fill="#0000ff" stroke="#000" stroke-width="1"/>
<rect x="375.52" y="658.4" width="8.96" height="2.1" fill="#0000ff" stroke="#000" stroke-width="1"/>
<rect x="384.48" y="659.2" width="8.96" height="1.3" fill="#0000ff" stroke="#000" stroke-width="1"/>
<rect x="393.44" y="659.7" width="8.96" height="0.8" fill="#0000ff" stroke="#000" stroke-width="1"/>
<rect x="402.40" y="660.1" width="8.96" height="0.4" fill="#0000ff" stroke="#000" stroke-width="1"/>
<line x1="129.6" y1="420.4" x2="129.6" y2="660.5" stroke="#bf00bf" stroke-width="2.1"/>
<line x1="215.0" y1="420.4" x2="215.0" y2="660.5" stroke="#008000" stroke-width="2.2"/>
<line x1="44" y1="420.8" x2="438.5" y2="420.8" stroke="#333" stroke-width="1.4"/>
<line x1="44.1" y1="420" x2="44.1" y2="661" stroke="#666" stroke-width="1.2"/>
<line x1="44" y1="660.6" x2="556" y2="660.6" stroke="#333" stroke-width="1.1"/>
<line x1="556" y1="594" x2="556" y2="661" stroke="#333" stroke-width="1.1"/>
<text x="40.6" y="616.4" font-family='"Liberation Sans", sans-serif' font-size="10.3" text-anchor="end" textLength="17.0" lengthAdjust="spacingAndGlyphs" fill="#000">500</text>
<line x1="44.8" y1="612.5" x2="47.5" y2="612.5" stroke="#777" stroke-width="0.8"/>
<text x="40.6" y="568.4" font-family='"Liberation Sans", sans-serif' font-size="10.3" text-anchor="end" textLength="22.7" lengthAdjust="spacingAndGlyphs" fill="#000">1000</text>
<line x1="44.8" y1="564.5" x2="47.5" y2="564.5" stroke="#777" stroke-width="0.8"/>
<text x="40.6" y="520.3" font-family='"Liberation Sans", sans-serif' font-size="10.3" text-anchor="end" textLength="22.7" lengthAdjust="spacingAndGlyphs" fill="#000">1500</text>
<line x1="44.8" y1="516.4" x2="47.5" y2="516.4" stroke="#777" stroke-width="0.8"/>
<text x="40.6" y="472.3" font-family='"Liberation Sans", sans-serif' font-size="10.3" text-anchor="end" textLength="22.7" lengthAdjust="spacingAndGlyphs" fill="#000">2000</text>
<line x1="44.8" y1="468.4" x2="47.5" y2="468.4" stroke="#777" stroke-width="0.8"/>
<text x="40.6" y="424.3" font-family='"Liberation Sans", sans-serif' font-size="10.3" text-anchor="end" textLength="22.7" lengthAdjust="spacingAndGlyphs" fill="#000">2500</text>
<line x1="553" y1="612.5" x2="555.5" y2="612.5" stroke="#777" stroke-width="0.8"/>
<line x1="129.3" y1="421" x2="129.3" y2="423.5" stroke="#777" stroke-width="0.8"/>
<line x1="214.7" y1="421" x2="214.7" y2="423.5" stroke="#777" stroke-width="0.8"/>
<line x1="300.0" y1="421" x2="300.0" y2="423.5" stroke="#777" stroke-width="0.8"/>
<line x1="385.3" y1="421" x2="385.3" y2="423.5" stroke="#777" stroke-width="0.8"/>
<text x="44.0" y="671.2" font-family='"Liberation Sans", sans-serif' font-size="10.3" text-anchor="middle" textLength="19.8" lengthAdjust="spacingAndGlyphs" fill="#000">0.00</text>
<text x="129.3" y="671.2" font-family='"Liberation Sans", sans-serif' font-size="10.3" text-anchor="middle" textLength="19.8" lengthAdjust="spacingAndGlyphs" fill="#000">0.05</text>
<text x="214.7" y="671.2" font-family='"Liberation Sans", sans-serif' font-size="10.3" text-anchor="middle" textLength="19.8" lengthAdjust="spacingAndGlyphs" fill="#000">0.10</text>
<text x="300.0" y="671.2" font-family='"Liberation Sans", sans-serif' font-size="10.3" text-anchor="middle" textLength="19.8" lengthAdjust="spacingAndGlyphs" fill="#000">0.15</text>
<text x="385.3" y="671.2" font-family='"Liberation Sans", sans-serif' font-size="10.3" text-anchor="middle" textLength="19.8" lengthAdjust="spacingAndGlyphs" fill="#000">0.20</text>
<text x="470.7" y="671.2" font-family='"Liberation Sans", sans-serif' font-size="10.3" text-anchor="middle" textLength="19.8" lengthAdjust="spacingAndGlyphs" fill="#000">0.25</text>
<text x="556.0" y="671.2" font-family='"Liberation Sans", sans-serif' font-size="10.3" text-anchor="middle" textLength="19.8" lengthAdjust="spacingAndGlyphs" fill="#000">0.30</text>
<text transform="translate(11.6,541.1) rotate(-90)" x="0" y="0" font-family='"Liberation Sans", sans-serif' font-size="14.2" text-anchor="middle" textLength="113.1" lengthAdjust="spacingAndGlyphs">Number of reefs</text>
<text x="227" y="686.8" font-family='"Liberation Sans", sans-serif' font-size="14.2" textLength="12.4" lengthAdjust="spacingAndGlyphs">x,</text>
<text x="242.6" y="686.6" font-family='"Liberation Serif", serif' font-size="15.6" textLength="20.8" lengthAdjust="spacingAndGlyphs">ΔΩ</text>
<text x="265.4" y="689.8" font-family='"Liberation Serif", serif' font-style="italic" font-size="9.8" textLength="80" lengthAdjust="spacingAndGlyphs">Injection − control</text>
<text x="351.5" y="686.8" font-family='"Liberation Sans", sans-serif' font-size="14.2" textLength="23.8" lengthAdjust="spacingAndGlyphs">&lt; x</text>
<text x="300.3" y="497.6" font-family='"Liberation Sans", sans-serif' font-size="9.6" textLength="59.8" lengthAdjust="spacingAndGlyphs">Leeper Shoal</text>
<text x="300.3" y="507.6" font-family='"Liberation Sans", sans-serif' font-size="9.6" textLength="132.2" lengthAdjust="spacingAndGlyphs">Holbourne Island Reef (No 1)</text>
<text x="300.3" y="517.6" font-family='"Liberation Sans", sans-serif' font-size="9.6" textLength="49.6" lengthAdjust="spacingAndGlyphs">Petrel Reef</text>
<text x="300.3" y="527.7" font-family='"Liberation Sans", sans-serif' font-size="9.6" textLength="91.9" lengthAdjust="spacingAndGlyphs">Hayman Island Reef</text>
<text x="300.3" y="537.7" font-family='"Liberation Sans", sans-serif' font-size="9.6" textLength="67.6" lengthAdjust="spacingAndGlyphs">Deloraine Reef</text>
<text x="300.3" y="547.7" font-family='"Liberation Sans", sans-serif' font-size="9.6" textLength="46.5" lengthAdjust="spacingAndGlyphs">Ireby Reef</text>
<text x="300.3" y="557.7" font-family='"Liberation Sans", sans-serif' font-size="9.6" textLength="87.7" lengthAdjust="spacingAndGlyphs">Edward Island Reef</text>
<text x="300.3" y="567.7" font-family='"Liberation Sans", sans-serif' font-size="9.6" textLength="114.1" lengthAdjust="spacingAndGlyphs">Hook Island Reef (No 11)</text>
<text x="300.3" y="577.8" font-family='"Liberation Sans", sans-serif' font-size="9.6" textLength="85.3" lengthAdjust="spacingAndGlyphs">Langford-Bird Reef</text>
<text x="300.3" y="587.8" font-family='"Liberation Sans", sans-serif' font-size="9.6" textLength="93.0" lengthAdjust="spacingAndGlyphs">Dumbell Reef (No 1)</text>
<rect x="438.4" y="413.2" width="136" height="181.3" fill="#fff" stroke="#333" stroke-width="1.1"/>
<polyline points="438.7,437.9 439.4,436.0 438.8,434.5 438.4,432.6 439.0,431.3 438.4,428.9 438.6,427.8 439.6,425.0 440.2,424.6 441.1,422.0 441.8,419.7 444.3,421.9 445.3,422.8 446.4,425.2 447.7,427.9 448.5,429.7 448.7,431.6 448.9,432.9 449.9,435.7 450.4,437.4 451.7,437.4 453.1,437.9 452.4,440.5 453.2,443.2 455.4,445.3 455.5,447.2 456.1,450.3 457.6,453.0 456.5,455.1 457.8,456.5 457.0,458.5 458.6,461.2 457.8,462.5 458.4,464.3 460.0,466.5 460.7,468.3 461.3,470.1 463.3,469.3 465.4,466.9 466.9,465.3 470.1,466.7 469.8,468.9 470.7,469.7 472.7,471.4 474.3,473.3 475.9,473.3 478.1,474.5 478.8,476.2 477.8,479.6 478.4,481.7 478.9,483.6 480.1,485.8 479.9,488.4 480.0,489.5 481.0,492.0 480.0,492.8 480.7,495.4 481.1,497.0 483.2,498.1 484.2,498.6 485.3,501.0 486.3,502.6 487.2,504.8 488.4,505.6 488.6,507.8 488.8,508.7 489.7,511.2 490.1,512.0 490.0,513.5 488.2,515.2 488.2,516.5 488.6,518.5 490.0,519.8 491.3,522.3 491.4,524.4 492.6,526.7 493.4,527.1 494.8,529.6 497.4,530.4 498.0,530.8 500.2,531.7 501.5,532.9 502.8,533.1 505.3,534.4 506.9,535.7 508.6,537.6 509.6,538.5 512.0,539.9 512.9,540.6 515.1,541.1 516.4,541.6 517.9,542.7 518.8,543.9 521.7,545.4 522.8,546.3 521.3,548.2 522.4,551.0 524.3,552.5 524.8,553.8 525.9,554.9 526.8,556.9 527.2,559.1 527.2,559.4 527.8,561.9 528.9,563.2 531.1,565.8 530.7,568.0 530.8,569.6 530.9,571.1 533.3,573.4 535.8,574.2 535.8,572.1 535.6,570.4 537.4,570.1 538.8,571.8 540.6,572.3 542.4,573.3 543.6,574.3 546.6,576.0 546.5,578.1 547.9,579.1 547.0,580.9 548.5,583.3 549.1,585.6 549.3,587.5 551.3,588.2 552.7,589.6 554.1,591.5 553.9,592.9 555.2,595.1" fill="none" stroke="#000" stroke-width="1.05" stroke-linejoin="round"/>
<polyline points="507.8,413.5 511.7,413.9 515.7,414.5 519.6,415.6 526.1,416.5 531.3,417.8 535.2,419.1 537.8,421.0 540.4,421.7 544.3,420.4 549.6,421.0 545.7,419.1 543.0,417.1 539.1,414.5 536.5,413.5" fill="none" stroke="#000" stroke-width="1"/>
<line x1="566.5" y1="421" x2="572.4" y2="420.6" stroke="#000" stroke-width="1"/>
<circle cx="470.1" cy="466.3" r="1.7" fill="#0000d8" stroke="#000" stroke-width="0.6"/>
<circle cx="492.3" cy="518.3" r="1.7" fill="#0000d8" stroke="#000" stroke-width="0.6"/>
<circle cx="511.7" cy="539.7" r="1.7" fill="#0000d8" stroke="#000" stroke-width="0.6"/>
<circle cx="517" cy="541" r="1.7" fill="#0000d8" stroke="#000" stroke-width="0.6"/>
<circle cx="521" cy="542.5" r="1.7" fill="#0000d8" stroke="#000" stroke-width="0.6"/>
<circle cx="530.5" cy="550.8" r="1.7" fill="#0000d8" stroke="#000" stroke-width="0.6"/>
<circle cx="532.9" cy="552.1" r="1.7" fill="#0000d8" stroke="#000" stroke-width="0.6"/>
<circle cx="535.3" cy="554" r="1.7" fill="#0000d8" stroke="#000" stroke-width="0.6"/>
<circle cx="536.9" cy="555.6" r="1.7" fill="#0000d8" stroke="#000" stroke-width="0.6"/>
<circle cx="540.9" cy="560.1" r="1.7" fill="#0000d8" stroke="#000" stroke-width="0.6"/>
<circle cx="541.7" cy="562.9" r="1.7" fill="#0000d8" stroke="#000" stroke-width="0.6"/>
<circle cx="542.9" cy="564.8" r="1.7" fill="#0000d8" stroke="#000" stroke-width="0.6"/>
<circle cx="543.2" cy="568" r="1.7" fill="#0000d8" stroke="#000" stroke-width="0.6"/>
<circle cx="546.1" cy="567.2" r="1.7" fill="#0000d8" stroke="#000" stroke-width="0.6"/>
<circle cx="545.6" cy="570.4" r="1.7" fill="#0000d8" stroke="#000" stroke-width="0.6"/>
<circle cx="517.3" cy="537.5" r="1.7" fill="#f00000" stroke="#000" stroke-width="0.6"/>
<circle cx="522.5" cy="542.5" r="1.7" fill="#f00000" stroke="#000" stroke-width="0.6"/>
<circle cx="524.9" cy="542.9" r="1.7" fill="#f00000" stroke="#000" stroke-width="0.6"/>
<circle cx="526.5" cy="544.9" r="1.7" fill="#f00000" stroke="#000" stroke-width="0.6"/>
</svg></body></html>
